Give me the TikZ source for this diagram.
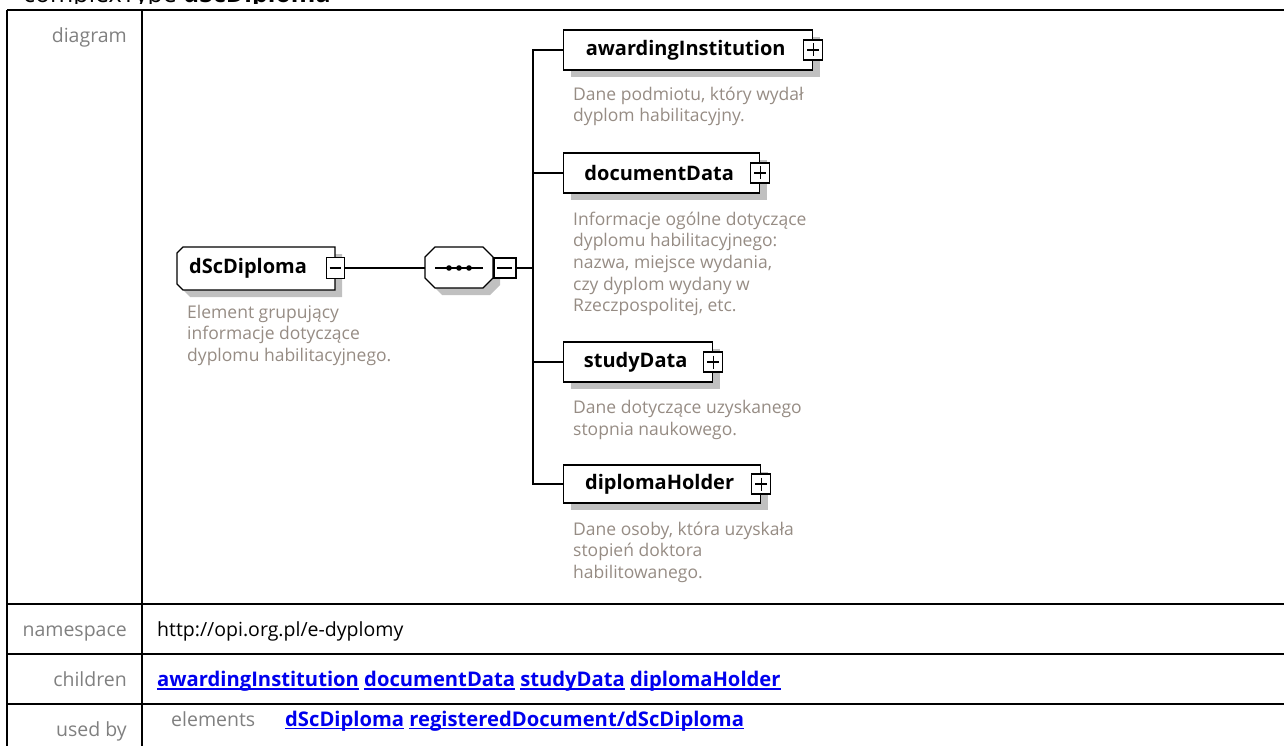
\documentclass[tikz,border=0pt]{standalone}
\usepackage{fontspec}
\setmainfont{Open Sans}
\usetikzlibrary{shadows}
\definecolor{lblgray}{RGB}{128,128,128}
\definecolor{descc}{RGB}{150,140,132}
\definecolor{linkc}{RGB}{0,0,238}
\definecolor{shadowc}{RGB}{192,192,192}
\newcommand\ulk[1]{\setbox0=\hbox{#1}\rlap{\rule[-3pt]{\wd0}{1.4pt}}\box0\relax}
\newcommand\fstrut{\rule{0pt}{16pt}}
\begin{document}
\begin{tikzpicture}[x=1pt,y=-1pt,
  tline/.style={line width=2pt},
  conn/.style={line width=1.4pt},
  outl/.style={draw, line width=1.3pt, fill=white},
  shad/.style={fill=shadowc},
  lbl/.style={font=\fontsize{19.5}{23}\selectfont, text=lblgray, inner sep=0pt},
  val/.style={font=\fontsize{19.5}{23}\selectfont, inner sep=0pt},
  lnk/.style={font=\fontsize{20.2}{24}\selectfont\bfseries, text=linkc, inner sep=0pt},
  eltext/.style={rectangle, inner sep=0pt, font=\fontsize{20}{24}\selectfont\bfseries},
  elbox/.style={eltext, draw, line width=1.3pt, fill=white,
    drop shadow={shadow xshift=7pt, shadow yshift=-7pt, opacity=1, fill=shadowc}},
  pmbox/.style={draw, line width=1.3pt, fill=white, rectangle, inner sep=0pt,
    minimum width=19pt, minimum height=20pt},
  plusbox/.style={pmbox, path picture={\draw[line width=1.3pt]
    ([xshift=3.5pt]path picture bounding box.west) -- ([xshift=-3.5pt]path picture bounding box.east)
    ([yshift=-3.5pt]path picture bounding box.north) -- ([yshift=3.5pt]path picture bounding box.south);}},
  minusbox/.style={pmbox, path picture={\draw[line width=1.3pt]
    ([xshift=3.5pt]path picture bounding box.west) -- ([xshift=-3.5pt]path picture bounding box.east);}},
  desc/.style={font=\fontsize{17.5}{21.67}\selectfont, text=descc, align=left, inner sep=0pt, anchor=north west}
]
\useasboundingbox (0,0) rectangle (1284,746);

% header (cut off at top)
\begin{scope}
  \clip (0,-40) rectangle (1284,4);
  \node[anchor=base west, inner sep=0pt, font=\fontsize{25}{30}\selectfont] (hdr) at (23,3) {complexType \textbf{dScDiploma}};
\end{scope}

% table
\begin{scope}
  \clip (0,0) rectangle (1284,746);
  \draw[tline] (7,10) -- (1290,10);
  \draw[tline] (7,10) -- (7,750);
  \draw[tline] (142,10) -- (142,750);
  \draw[tline] (7,604) -- (1290,604);
  \draw[tline] (7,654) -- (1290,654);
  \draw[tline] (7,704) -- (1290,704);
\end{scope}

\node[lbl, anchor=base east] (tdiag) at (127,43) {diagram};
\node[lbl, anchor=base east] (tns) at (127,636.7) {namespace};
\node[lbl, anchor=base east] (tch) at (127,686.7) {children};
\node[lbl, anchor=base east] (tub) at (127,736.7) {used by};
\node[val, anchor=base west] (vns) at (157,636.7) {http://opi.org.pl/e-dyplomy};
\node[lnk, anchor=base west] (vch) at (157,686.7) {\ulk{awardingInstitution} \ulk{documentData} \ulk{studyData} \ulk{diplomaHolder}};
\node[lbl, anchor=base west] (vel) at (171,726) {elements};
\node[lnk, anchor=base west] (vub) at (285,726) {\ulk{dScDiploma} \ulk{registeredDocument/dScDiploma}};

% diagram: root element (chamfered on the left)
\fill[shad] (190,254) -- (342,254) -- (342,297) -- (190,297) -- (184,291) -- (184,260) -- cycle;
\path[outl] (183,247) -- (335,247) -- (335,290) -- (183,290) -- (177,284) -- (177,253) -- cycle;
\node[eltext, minimum width=158pt, minimum height=43pt] (root) at (256,268) {dScDiploma\hspace*{16pt}};
\node[minusbox, minimum width=18pt, minimum height=21pt] (rootpm) at (root.east) {};
\node[desc] (rootd) at (187,302) {\fstrut Element grupujący\\informacje dotyczące\\dyplomu habilitacyjnego.};

% sequence (octagon)
\fill[shad] (442,254) -- (490,254) -- (500,264) -- (500,285) -- (490,295) -- (442,295) -- (432,285) -- (432,264) -- cycle;
\path[outl] (435,247) -- (483,247) -- (493,257) -- (493,278) -- (483,288) -- (435,288) -- (425,278) -- (425,257) -- cycle;
\node[eltext, minimum width=68pt, minimum height=41pt] (seq) at (459,268) {};
\draw[line width=1.3pt] ([xshift=-24pt]seq.center) -- ([xshift=24pt]seq.center);
\fill ([xshift=-10pt]seq.center) circle[radius=2.8pt];
\fill (seq.center) circle[radius=2.8pt];
\fill ([xshift=10pt]seq.center) circle[radius=2.8pt];
\node[minusbox, minimum width=22pt, anchor=west] (seqpm) at (seq.east) {};

% children
\node[elbox, minimum width=249pt, minimum height=40pt, anchor=west] (ai) at (563,50) {awardingInstitution\hspace*{5pt}};
\node[plusbox] (aipm) at (ai.east) {};
\node[desc] (aid) at (573,84) {\fstrut Dane podmiotu, który wydał\\dyplom habilitacyjny.};

\node[elbox, minimum width=196pt, minimum height=40pt, anchor=west] (dd) at (563,173) {documentData\hspace*{5pt}};
\node[plusbox] (ddpm) at (dd.east) {};
\node[desc] (ddd) at (573,209) {\fstrut Informacje ogólne dotyczące\\dyplomu habilitacyjnego:\\nazwa, miejsce wydania,\\czy dyplom wydany w\\Rzeczpospolitej, etc.};

\node[elbox, minimum width=149pt, minimum height=40pt, anchor=west] (sd) at (563,362) {studyData\hspace*{5pt}};
\node[plusbox] (sdpm) at (sd.east) {};
\node[desc] (sdd) at (573,397.3) {\fstrut Dane dotyczące uzyskanego\\stopnia naukowego.};

\node[elbox, minimum width=197pt, minimum height=38pt, anchor=west] (dh) at (563,484) {diplomaHolder\hspace*{5pt}};
\node[plusbox] (dhpm) at (dh.east) {};
\node[desc] (dhd) at (573,519) {\fstrut Dane osoby, która uzyskała\\stopień doktora\\habilitowanego.};

% connectors
\coordinate (bus) at (533,268);
\draw[conn] (rootpm.east) -- (seq.west);
\draw[conn] (seqpm.east) -- (seqpm.east -| bus);
\draw[conn] (ai.west) -- (ai.west -| bus) |- (dh.west);
\draw[conn] (dd.west) -- (dd.west -| bus);
\draw[conn] (sd.west) -- (sd.west -| bus);
\end{tikzpicture}
\end{document}
